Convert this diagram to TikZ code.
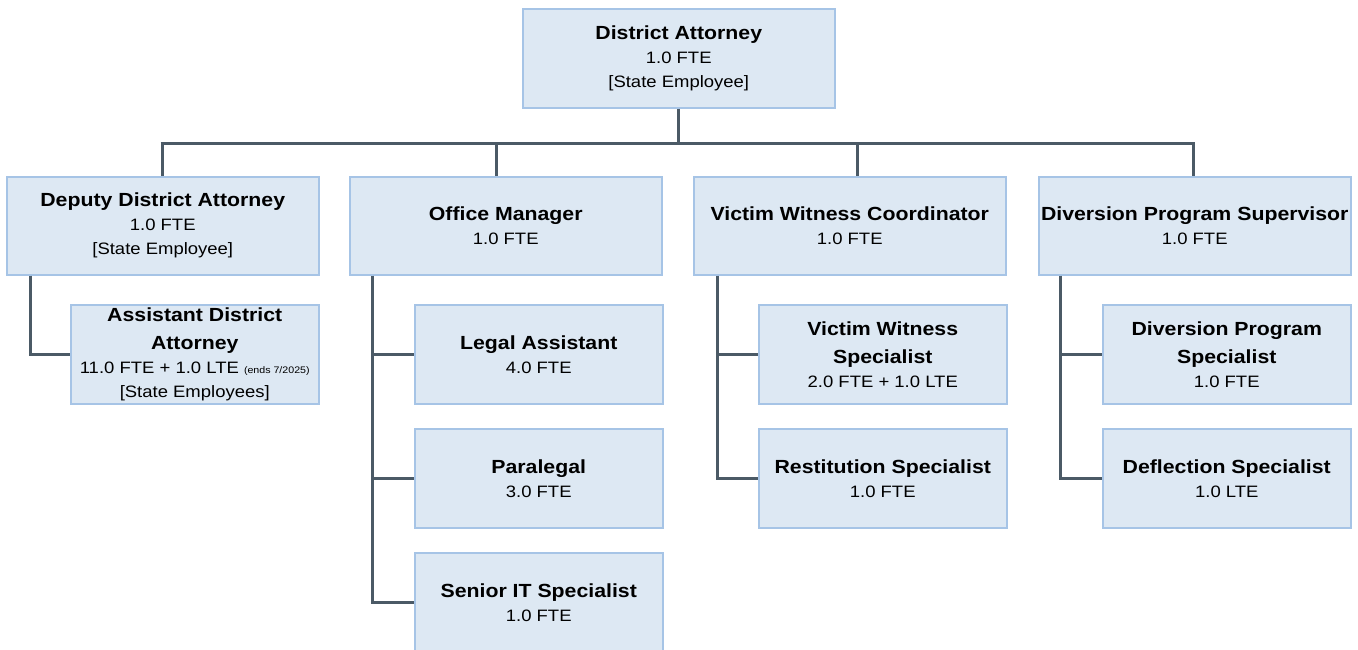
\documentclass[tikz,border=0pt]{standalone}
\usepackage{fontspec}
\setmainfont[FakeStretch=1.12]{Liberation Sans}
\usepackage{tikz}
\usetikzlibrary{calc}
\definecolor{boxfill}{HTML}{DDE8F3}
\definecolor{boxline}{HTML}{A6C4E6}
\definecolor{linkcolor}{HTML}{4B5A66}

\newcommand{\ttl}[1]{{\fontsize{19}{24}\selectfont\bfseries #1}}
\newcommand{\smallnote}[1]{{\fontsize{9.5}{11}\selectfont #1}}

\tikzset{
  orgbox/.style={draw=boxline, fill=boxfill, line width=1.5pt, anchor=north west,
    align=center, inner sep=0pt, font=\fontsize{16.5}{24}\selectfont},
  headbox/.style={orgbox, minimum width=312pt, minimum height=98pt},
  subbox/.style={orgbox, minimum width=248pt, minimum height=99pt},
  link/.style={draw=linkcolor, line width=3pt}
}

\begin{document}
\begin{tikzpicture}[x=1pt, y=-1pt]
    \useasboundingbox (0,0) rectangle (1358,649);
    \clip (0,0) rectangle (1358,649);

    % Top
    \node[headbox, minimum height=99pt] (da) at (522,8) {\ttl{District Attorney}\\1.0 FTE\\{[State Employee]}};

    % Second level
    \node[headbox] (dda) at (6,176) {\ttl{Deputy District Attorney}\\1.0 FTE\\{[State Employee]}};
    \node[headbox] (om) at (349,176) {\ttl{Office Manager}\\1.0 FTE};
    \node[headbox] (vwc) at (693,176) {\ttl{Victim Witness Coordinator}\\1.0 FTE};
    \node[headbox] (dps) at (1038,176) {\ttl{Diversion Program Supervisor}\\1.0 FTE};

    % Third level
    \node[subbox] (ada) at (70,304) {\ttl{Assistant District}\\[4pt]\ttl{Attorney}\\11.0 FTE + 1.0 LTE \smallnote{(ends 7/2025)}\\{[State Employees]}};
    \node[subbox] (la) at (414,304) {\ttl{Legal Assistant}\\4.0 FTE};
    \node[subbox] (pl) at (414,428) {\ttl{Paralegal}\\3.0 FTE};
    \node[subbox] (sit) at (414,552) {\ttl{Senior IT Specialist}\\1.0 FTE};
    \node[subbox] (vws) at (758,304) {\ttl{Victim Witness}\\[4pt]\ttl{Specialist}\\2.0 FTE + 1.0 LTE};
    \node[subbox] (rs) at (758,428) {\ttl{Restitution Specialist}\\1.0 FTE};
    \node[subbox] (dpsp) at (1102,304) {\ttl{Diversion Program}\\[4pt]\ttl{Specialist}\\1.0 FTE};
    \node[subbox] (dfs) at (1102,428) {\ttl{Deflection Specialist}\\1.0 LTE};

    % Bus
    \coordinate (busA) at (162,143);
    \coordinate (busB) at (496,143);
    \coordinate (busC) at (857,143);
    \coordinate (busD) at (1193,143);
    \draw[link] (da.south) -- (da.south |- busA);
    \draw[link] ([xshift=-1.5pt]busA) -- ([xshift=1.5pt]busD);
    \draw[link] (busA) -- (busA |- dda.north);
    \draw[link] (busB) -- (busB |- om.north);
    \draw[link] (busC) -- (busC |- vwc.north);
    \draw[link] (busD) -- (busD |- dps.north);

    % Spines
    \coordinate (ddaS) at ([xshift=24pt]dda.south west);
    \coordinate (omS) at ([xshift=23pt]om.south west);
    \coordinate (vwcS) at ([xshift=24pt]vwc.south west);
    \coordinate (dpsS) at ([xshift=22pt]dps.south west);
    \draw[link] (ddaS) |- (ada.west);
    \draw[link] (omS) |- (sit.west);
    \draw[link] (omS |- la.west) -- (la.west);
    \draw[link] (omS |- pl.west) -- (pl.west);
    \draw[link] (vwcS) |- (rs.west);
    \draw[link] (vwcS |- vws.west) -- (vws.west);
    \draw[link] (dpsS) |- (dfs.west);
    \draw[link] (dpsS |- dpsp.west) -- (dpsp.west);
\end{tikzpicture}
\end{document}
